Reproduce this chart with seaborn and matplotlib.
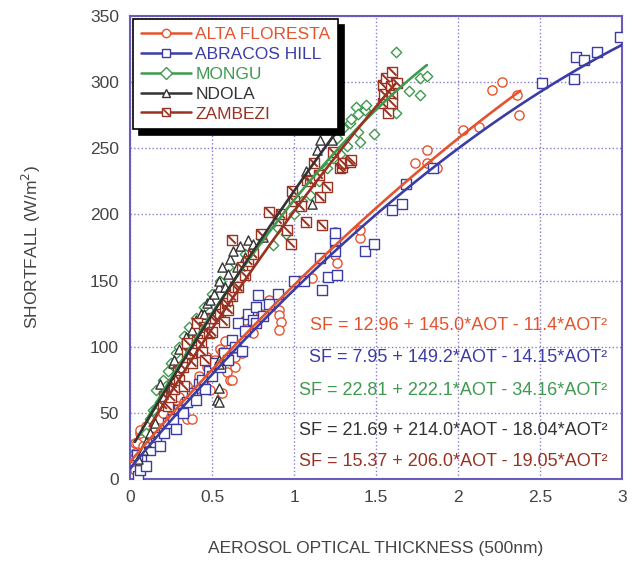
import numpy as np
import pandas as pd
import matplotlib
matplotlib.use('Agg')
import matplotlib.pyplot as plt
from matplotlib.lines import Line2D
from matplotlib.path import Path
import seaborn as sns

# puntos (AOT, SF)
alta_floresta = [(0.02, 10), (0.03, 27), (0.03, 20), (0.03, 7), (0.05, 2), (0.04, 27), (0.06, 35), (0.06, 37),
                 (0.08, 25), (0.1, 40), (0.12, 35), (0.15, 38), (0.18, 45), (0.2, 50), (0.22, 55), (0.25, 48),
                 (0.28, 60), (0.3, 62), (0.33, 58), (0.35, 70), (0.35, 45), (0.38, 45), (0.4, 68), (0.42, 78),
                 (0.45, 72), (0.47, 85), (0.47, 92), (0.49, 67), (0.5, 80), (0.52, 90), (0.53, 88), (0.55, 98),
                 (0.56, 96), (0.56, 65), (0.58, 104), (0.59, 81), (0.61, 75), (0.62, 75), (0.64, 85), (0.64, 92),
                 (0.65, 100), (0.68, 95), (0.7, 120), (0.75, 110), (0.8, 125), (0.85, 135), (0.91, 128),
                 (0.91, 124), (0.92, 119), (0.91, 113), (1.0, 150), (1.11, 152), (1.25, 169), (1.26, 163),
                 (1.25, 187), (1.4, 182), (1.4, 188), (1.74, 239), (1.81, 239), (1.81, 249), (1.87, 235),
                 (2.03, 264), (2.13, 266), (2.21, 294), (2.27, 300), (2.36, 290), (2.37, 275)]

abracos_hill = [(0.05, 2), (0.06, 7), (0.07, 14), (0.04, 18), (0.1, 10), (0.12, 22), (0.14, 28), (0.16, 32),
                (0.18, 25), (0.21, 35), (0.23, 42), (0.26, 45), (0.28, 38), (0.3, 52), (0.32, 50), (0.35, 58),
                (0.38, 65), (0.4, 60), (0.42, 72), (0.44, 75), (0.46, 68), (0.48, 82), (0.5, 78), (0.52, 88),
                (0.55, 85), (0.57, 95), (0.6, 90), (0.62, 105), (0.64, 100), (0.66, 118), (0.68, 97), (0.7, 112),
                (0.72, 125), (0.75, 120), (0.77, 118), (0.77, 130), (0.78, 139), (0.81, 123), (0.85, 132),
                (0.9, 140), (1.0, 150), (1.06, 150), (1.16, 167), (1.17, 143), (1.21, 153), (1.25, 172),
                (1.25, 181), (1.26, 154), (1.25, 186), (1.43, 172), (1.49, 178), (1.6, 203), (1.66, 208),
                (1.68, 223), (1.85, 235), (2.51, 299), (2.71, 302), (2.72, 319), (2.77, 317), (2.85, 323),
                (2.99, 334)]

mongu = [(0.1, 35), (0.12, 45), (0.14, 52), (0.16, 67), (0.18, 58), (0.2, 75), (0.22, 70), (0.23, 82),
         (0.25, 88), (0.28, 95), (0.3, 100), (0.33, 108), (0.36, 115), (0.4, 122), (0.45, 130), (0.5, 140),
         (0.55, 150), (0.6, 160), (0.7, 170), (0.8, 182), (0.87, 177), (0.9, 190), (0.95, 185), (1.0, 200),
         (1.05, 210), (1.1, 215), (1.15, 225), (1.2, 235), (1.24, 243), (1.26, 258), (1.28, 246), (1.3, 265),
         (1.32, 252), (1.34, 269), (1.35, 272), (1.38, 281), (1.39, 276), (1.39, 262), (1.4, 255),
         (1.43, 279), (1.44, 283), (1.49, 261), (1.62, 277), (1.62, 323), (1.7, 293), (1.77, 290),
         (1.77, 303), (1.81, 305)]

ndola = [(0.05, 15), (0.08, 22), (0.1, 28), (0.12, 35), (0.15, 42), (0.18, 72), (0.2, 58), (0.22, 65),
         (0.26, 88), (0.27, 90), (0.3, 98), (0.34, 107), (0.38, 113), (0.4, 120), (0.43, 125), (0.45, 125),
         (0.47, 133), (0.49, 135), (0.51, 140), (0.54, 145), (0.54, 150), (0.56, 160), (0.58, 145),
         (0.6, 155), (0.61, 166), (0.63, 172), (0.65, 160), (0.67, 176), (0.7, 168), (0.72, 181),
         (0.75, 178), (0.81, 183), (0.54, 90), (0.54, 87), (0.54, 69), (0.53, 60), (0.54, 58),
         (1.07, 233), (1.11, 208), (1.14, 249), (1.16, 256), (1.23, 256)]

zambezi = [(0.2, 56), (0.21, 63), (0.23, 55), (0.25, 62), (0.26, 72), (0.27, 68), (0.29, 82), (0.3, 75),
           (0.32, 85), (0.33, 70), (0.35, 96), (0.35, 103), (0.37, 95), (0.38, 88), (0.41, 105), (0.41, 118),
           (0.43, 103), (0.44, 96), (0.45, 115), (0.46, 90), (0.48, 110), (0.5, 111), (0.5, 122), (0.52, 122),
           (0.55, 125), (0.57, 119), (0.58, 130), (0.59, 133), (0.6, 128), (0.62, 138), (0.62, 181),
           (0.64, 145), (0.66, 145), (0.68, 160), (0.7, 154), (0.72, 165), (0.75, 170), (0.8, 185),
           (0.85, 202), (0.9, 196), (0.92, 200), (0.96, 188), (0.98, 178), (0.99, 218), (1.0, 210),
           (1.04, 206), (1.07, 194), (1.08, 226), (1.1, 225), (1.12, 239), (1.15, 230), (1.16, 213),
           (1.17, 192), (1.2, 221), (1.24, 247), (1.28, 235), (1.29, 236), (1.3, 239), (1.34, 240),
           (1.35, 241), (1.54, 284), (1.54, 298), (1.55, 291), (1.56, 303), (1.57, 277), (1.59, 297),
           (1.6, 308), (1.6, 290), (1.6, 284), (1.63, 299)]

sites = ['ALTA FLORESTA', 'ABRACOS HILL', 'MONGU', 'NDOLA', 'ZAMBEZI']
points = [alta_floresta, abracos_hill, mongu, ndola, zambezi]
colors = ['#e5532d', '#3c3ca6', '#3f9a4f', '#333333', '#9a3222']
# coeficientes del ajuste (a + b*AOT + c*AOT^2) y rango del ajuste
fit_coefs = [(12.96, 145.0, -11.4), (7.95, 149.2, -14.15), (22.81, 222.1, -34.16),
             (21.69, 214.0, -18.04), (15.37, 206.0, -19.05)]
fit_range = [(0.0, 2.38), (0.0, 3.0), (0.1, 1.81), (0.03, 1.25), (0.12, 1.62)]
equations = ['SF = 12.96 + 145.0*AOT - 11.4*AOT²',
             'SF = 7.95 + 149.2*AOT - 14.15*AOT²',
             'SF = 22.81 + 222.1*AOT - 34.16*AOT²',
             'SF = 21.69 + 214.0*AOT - 18.04*AOT²',
             'SF = 15.37 + 206.0*AOT - 19.05*AOT²']
eq_y = [116, 92, 67, 37, 13]

# raya diagonal dentro del cuadrado de Zambezi
slash = Path([(-1, 1), (1, -1)], [Path.MOVETO, Path.LINETO])
markers = ['o', 's', 'D', '^', 's']
msizes = [44, 52, 28, 44, 52]

sns.set_style('white')
plt.rcParams['font.family'] = ['Liberation Sans', 'DejaVu Sans']
grid_col = '#6a5cbc'
txt_col = '#444444'

fig = plt.figure(figsize=(6.33, 5.65), dpi=100)
ax = fig.add_axes([0.2054, 0.1522, 0.7773, 0.8195])

for i, name in enumerate(sites):
    df = pd.DataFrame(points[i], columns=['AOT', 'SF'])
    sns.scatterplot(data=df, x='AOT', y='SF', ax=ax, marker=markers[i], s=msizes[i],
                    color=colors[i], facecolor='white', edgecolor=colors[i],
                    linewidth=1.0, zorder=2 + i, legend=False)
    if name == 'ZAMBEZI':
        sns.scatterplot(data=df, x='AOT', y='SF', ax=ax, marker=slash, s=34,
                        color=colors[i], facecolor='none', edgecolor=colors[i], linewidth=1.4,
                        zorder=2 + i, legend=False)

for i, name in enumerate(sites):
    a, b, c = fit_coefs[i]
    xs = np.linspace(fit_range[i][0], fit_range[i][1], 100)
    fit_df = pd.DataFrame({'AOT': xs, 'SF': a + b * xs + c * xs ** 2})
    sns.lineplot(data=fit_df, x='AOT', y='SF', ax=ax, color=colors[i], lw=1.9, zorder=10)

for i in range(5):
    ax.text(2.91, eq_y[i], equations[i], color=colors[i], fontsize=13, ha='right', va='center', zorder=12)

ax.set_xlim(0, 3)
ax.set_ylim(0, 350)
ax.set_xticks([0, 0.5, 1, 1.5, 2, 2.5, 3])
ax.set_xticklabels(['0', '0.5', '1', '1.5', '2', '2.5', '3'])
ax.set_yticks(range(0, 351, 50))
ax.grid(True, color=grid_col, linestyle=':', linewidth=1.0, alpha=0.8)
ax.set_axisbelow(True)
for sp in ax.spines.values():
    sp.set_color(grid_col)
    sp.set_linewidth(1.5)
ax.tick_params(direction='in', length=4, color=grid_col, labelsize=12.5, labelcolor=txt_col, pad=8)
ax.set_xlabel('AEROSOL OPTICAL THICKNESS (500nm)', fontsize=12.5, color=txt_col, labelpad=26)
ax.set_ylabel('SHORTFALL (W/m$^2$)', fontsize=12.5, color=txt_col, labelpad=34)

handles = []
for i in range(5):
    h = Line2D([], [], color=colors[i], lw=1.8, marker=markers[i],
               markersize=6, markerfacecolor='white', markeredgecolor=colors[i])
    if sites[i] == 'ZAMBEZI':
        h = (h, Line2D([], [], ls='none', marker=slash, markersize=4.5,
                       markeredgecolor=colors[i], markeredgewidth=1.2, markerfacecolor='none'))
    handles.append(h)
leg = ax.legend(handles, sites, loc='upper left', bbox_to_anchor=(0.006, 0.993), borderaxespad=0,
                fontsize=12.5, handlelength=2.9, handletextpad=0.25, labelspacing=0.27,
                borderpad=0.45, fancybox=False, framealpha=1, edgecolor='black',
                shadow={'color': 'black', 'alpha': 1, 'ox': 4, 'oy': -4})
leg.get_frame().set_linewidth(1.2)
for t, c in zip(leg.get_texts(), colors):
    t.set_color(c)
leg.set_zorder(20)

fig.savefig('out.png', dpi=100)
